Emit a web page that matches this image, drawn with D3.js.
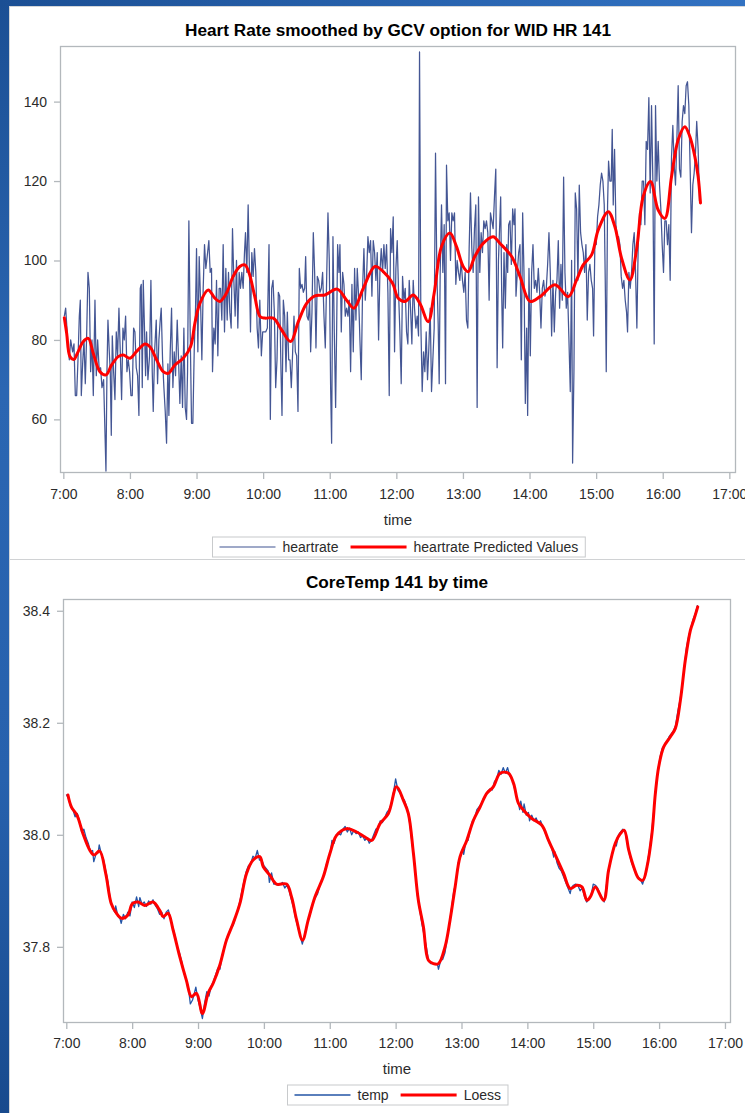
<!DOCTYPE html>
<html><head><meta charset="utf-8">
<script src="https://cdn.jsdelivr.net/npm/d3@7"></script>
<style>
html,body{margin:0;padding:0;background:#fff;}
svg{display:block;font-family:"Liberation Sans",Arial,sans-serif;}
</style></head><body>
<svg id="chart" width="745" height="1113"></svg>
<script>
// ---------------- DATA (minutes after 7:00, value) ----------------
const hourTicks = ["7:00","8:00","9:00","10:00","11:00","12:00","13:00","14:00","15:00","16:00","17:00"];
const hrYTicks = [60, 80, 100, 120, 140];
const tempYTicks = [37.8, 38.0, 38.2, 38.4];

const heartrate = [
[0.9,86],[2.1,88],[3.9,80],[5.4,75],[6.6,80],[8.4,77],[9.6,79],[10.8,66],[12,66],[13.2,75],
[14.4,86],[15.3,90],[16.2,66],[17.4,74],[18.6,80],[19.8,69],[21,81],[22.2,97],[23.4,93],[24.6,72],
[25.8,80],[27,66],[28.5,90],[29.7,71],[30.9,80],[32.4,72],[33.6,73],[34.8,68],[36.3,70],[38.4,47],
[39.3,72],[40.2,85],[41.4,77],[42.3,72],[43.2,56],[44.1,81],[45.3,72],[46.5,65],[47.7,82],[48.9,76],
[50.1,88],[51.3,77],[52.5,65],[53.7,83],[54.9,80],[56.1,86],[57.3,72],[58.5,75],[59.7,72],[60.9,66],
[62.1,66],[63.3,83],[64.5,82],[65.7,73],[66.9,71],[68.1,61],[69.3,93],[70.2,94],[71.1,68],[72,95],
[73.2,82],[74.1,71],[75,82],[76.2,70],[77.7,76],[78.9,95],[80.1,72],[81,62],[82.2,77],[83.7,85],
[84.9,69],[86.1,80],[87.3,85],[88.2,88],[89.4,75],[90.6,68],[91.8,62],[93,54],[94.2,74],[95.1,61],
[96.3,77],[97.5,88],[98.7,68],[99.9,77],[101.1,71],[102.6,85],[103.8,75],[105,64],[106.2,76],[107.4,63],
[108.6,83],[109.8,63],[111,60],[111.9,72],[113.1,110],[114.3,82],[115.5,59],[116.7,59],[117.9,77],[119.1,88],
[120,103],[121.2,77],[122.4,101],[123.6,90],[124.8,75],[126,93],[127.2,104],[128.4,98],[129.6,101],[131.1,105],
[132.3,97],[133.5,98],[134.4,72],[135.6,83],[136.8,79],[138,95],[139.2,76],[140.4,93],[141.6,93],[142.8,85],
[144,104],[145.2,82],[146.4,98],[147.6,85],[148.8,97],[150,87],[151.2,83],[152.4,108],[153.6,95],[154.8,86],
[156,100],[157.2,83],[158.4,97],[159.6,93],[160.8,97],[162,93],[163.2,102],[164.1,107],[165.3,97],[166.5,114],
[167.7,97],[168.6,82],[169.8,102],[171,96],[172.2,103],[173.4,97],[174.6,83],[175.8,78],[177,90],[178.4,76],
[179.6,82],[180.8,82],[182.3,82],[183.8,83],[185.3,104],[186.5,60],[187.7,93],[188.9,95],[190.1,87],[191.3,68],
[192.5,75],[193.7,92],[194.9,91],[196.1,72],[197,61],[198.2,90],[199.4,86],[200.6,72],[201.8,87],[203,75],
[204.2,75],[205.4,68],[206.6,77],[207.8,86],[209,77],[210.2,76],[211.4,62],[212.6,98],[213.8,93],[215,94],
[216.2,92],[217.4,93],[218.3,101],[219.5,86],[220.7,85],[221.9,90],[222.8,77],[224,87],[225.2,107],[226.4,97],
[227.6,78],[228.8,96],[230,95],[231.2,92],[232.4,93],[233.6,97],[234.8,86],[236,78],[237.2,95],[238.4,112],
[239.6,100],[240.8,68],[241.7,54],[242.9,106],[244.1,82],[245.3,63],[246.2,82],[247.1,104],[248.3,97],[249.2,104],
[250.4,82],[251.6,97],[252.8,94],[254,86],[255.2,88],[256.4,86],[257.6,90],[258.8,72],[260,94],[261.2,77],
[262.4,98],[263.6,85],[264.8,98],[266,91],[267.2,80],[268.4,70],[269.6,93],[270.8,103],[272,90],[273.2,96],
[274.4,106],[275.6,102],[276.8,105],[278,91],[279.2,105],[280.4,102],[281.6,95],[282.8,102],[284,80],[285.2,97],
[286.4,103],[287.6,97],[288.8,104],[290,98],[291.2,104],[292.4,92],[293.6,66],[294.8,108],[296,102],[297.2,111],
[298.4,77],[299.6,98],[300.8,105],[302,92],[303.2,82],[304.4,69],[305.6,96],[306.8,90],[308,93],[309.2,82],
[310.4,79],[311.6,95],[312.8,88],[314,79],[315.2,95],[316.4,88],[317.6,83],[318.8,86],[320,81],[320.9,152.5],
[322.1,84],[323.3,67],[324.5,77],[325.7,72],[326.9,82],[328.1,70],[329.3,78],[330.5,88],[331.7,67],[332.9,75],
[334.1,83],[335.3,127],[336.5,97],[337.7,84],[338.6,69],[339.5,97],[340.7,114],[341.9,97],[343.1,109],[344.3,69],
[345.2,124],[346.4,110],[347.6,112],[348.8,100],[350,112],[351.2,110],[352.4,112],[353.6,94],[354.8,100],[356,97],
[357.2,95],[358.4,100],[359.6,95],[360.8,92],[362,97],[363.2,85],[364.4,83],[365.6,103],[366.8,117],[368,103],
[369.2,97],[370.4,108],[371.6,114],[372.8,63],[374,116],[375.2,97],[376.4,107],[377.6,102],[378.8,110],[380,108],
[381.2,110],[382.4,107],[383.6,90],[384.8,112],[386,110],[387.2,108],[388.4,116],[389.6,123],[390.8,73],[392,100],
[394,116],[394.9,92],[395.8,78],[397,102],[398.2,88],[399.4,104],[400.3,97],[401.2,109],[402.4,110],[403.6,99],
[404.8,113],[406,109],[406.9,113],[407.8,91],[409,97],[410.2,102],[411.4,104],[412.6,75],[413.8,112],[415,97],
[416.2,64],[417.4,83],[418.3,61],[419.5,98],[420.7,76],[421.9,97],[423.1,104],[424.3,93],[425.5,95],[426.7,92],
[427.9,98],[429.1,92],[430.3,83],[431.5,93],[432.7,95],[433.9,91],[435.1,93],[436.3,99],[437.5,107],[438.7,97],
[439.9,81],[441.1,95],[442.3,82],[443.5,92],[444.7,95],[445.9,105],[447.1,88],[448.3,99],[449.5,90],[450.7,121],
[451.9,97],[453.1,88],[454.3,92],[455.5,80],[456.7,67],[457.9,100],[458.8,49],[460,72],[461.2,117],[462.4,113],
[463.6,95],[464.8,119],[466,107],[467.2,104],[468.4,102],[469.6,97],[470.8,104],[472,85],[473.2,97],[474.4,99],
[475.6,95],[476.8,93],[477.7,81],[478.9,105],[480.1,104],[481.3,111],[482.5,114],[483.7,119],[484.9,122],[486.1,120],
[487.3,114],[488.2,95],[489.1,72],[490.3,114],[491.2,125],[492.4,120],[493.6,120],[494.5,133],[495.4,114],[496.6,128],
[497.8,109],[499,106],[500.2,106],[501.4,104],[502.6,96],[503.8,93],[505,95],[506.2,90],[507.4,87],[508.3,82],
[509.5,97],[510.7,93],[511.9,97],[513.1,104],[514.3,107],[515.5,97],[516.7,83],[517.9,104],[519.1,112],[520.3,109],
[521.5,120],[522.7,120],[523.9,109],[525.1,130],[526.3,128],[527.5,141],[528.7,117],[529.9,139],[531.1,120],[532.3,79],
[533.5,139],[534.7,120],[535.9,130],[537.1,119],[538.3,113],[539.5,104],[540.7,97],[541.9,110],[543.1,110],[544.3,104],
[545.5,109],[546.7,95],[547.9,126],[549.1,134],[550.3,124],[551.5,119],[552.7,130],[553.9,144],[555.1,123],[556.3,121],
[557.5,135],[558.7,139],[559.9,137],[561.1,144],[562.3,145],[563.5,139],[564.7,123],[565.9,107],[567.1,119],[568.3,122],
[569.5,127],[570.6,135],[571.9,128],[573.1,115],[574,115]
];

const heartratePredicted = [
[0.9,85.6],[3,81.7],[6,75.8],[9.6,75.1],[12.6,76.6],[18,79.6],[22.5,80.4],[27,76.6],[33,72],[38.4,71.2],
[43.5,73.7],[49.5,75.8],[54,76.2],[60,75.4],[66,77.1],[73.5,79],[78,78.3],[84,75],[90,72],[94.5,71.6],
[100.5,73.7],[108,75.4],[114.6,78.3],[118.5,84.2],[123,89.2],[130.5,92.6],[136.5,90.5],[141,89.7],[147,91.8],[153,96],
[159,98.5],[163.5,98.9],[167.4,96.8],[172.5,90.9],[177.2,85.9],[181.7,85.5],[189.2,85.5],[196.7,82.5],[204.8,79.6],[211.7,84.6],
[219.2,89.2],[226.7,91.1],[235.7,91.3],[246.8,92.8],[255.2,90],[261.8,88],[270.2,93],[280.7,98.5],[288.2,97.2],[296.6,94.3],
[301.7,90.5],[307.7,89.7],[315.2,91.3],[321.2,89.2],[328.7,84.6],[334.1,91.8],[340.7,103.5],[348.2,106.9],[354.2,103.5],[360.2,98.5],
[364.7,97.2],[370.7,101],[378.2,104.3],[387.2,106],[393.4,104.3],[403.9,101],[411.4,96],[420.4,89.7],[429.4,90.9],[442.9,93.9],
[454.9,90.9],[462.4,95.1],[468.4,98.9],[475.9,101.4],[481.9,107.7],[490.9,112.3],[496.9,108.5],[502.9,100.6],[510.4,95.1],[516.4,102.7],
[522.4,116.1],[529,119.9],[535.9,112.7],[541.9,110.6],[547.9,121.1],[553.9,130.4],[559.9,133.7],[564.4,131.2],[568.9,126.2],[571.9,121.1],
[574,114.5]
];

const temp = [
[0,38.072],[2,38.065],[4,38.05],[6,38.045],[8,38.032],[10,38.038],[12,38.025],[14,38.005],[16,38.01],[18,37.995],
[20,37.985],[22,37.97],[24,37.972],[25,37.952],[27,37.965],[29,37.968],[30,37.982],[32,37.965],[34,37.955],[36,37.935],
[38,37.915],[40,37.885],[42,37.872],[44,37.862],[45,37.873],[47,37.855],[49,37.85],[50,37.842],[52,37.858],[54,37.85],
[56,37.862],[58,37.855],[60,37.88],[62,37.87],[64,37.889],[66,37.872],[67,37.888],[69,37.876],[71,37.88],[73,37.872],
[75,37.882],[77,37.876],[79,37.884],[81,37.874],[83,37.868],[85,37.858],[87,37.862],[89,37.85],[91,37.862],[93,37.866],
[95,37.85],[97,37.835],[99,37.82],[101,37.8],[103,37.79],[105,37.775],[107,37.755],[109,37.742],[111,37.73],[113,37.698],
[115,37.705],[117,37.72],[118,37.728],[120,37.705],[122,37.69],[124,37.672],[126,37.7],[128,37.72],[130,37.712],[132,37.73],
[134,37.738],[136,37.75],[138,37.762],[140,37.76],[142,37.785],[144,37.8],[146,37.815],[148,37.822],[150,37.835],[152,37.838],
[154,37.852],[156,37.865],[158,37.88],[160,37.9],[162,37.918],[164,37.935],[166,37.945],[168,37.948],[170,37.962],[172,37.958],
[174,37.972],[176,37.955],[178,37.955],[180,37.945],[182,37.94],[184,37.935],[185,37.915],[187,37.932],[189,37.912],[191,37.912],
[193,37.91],[195,37.912],[197,37.915],[199,37.905],[201,37.91],[203,37.9],[205,37.885],[207,37.87],[209,37.85],[211,37.835],
[213,37.82],[215,37.805],[217,37.82],[219,37.838],[221,37.85],[223,37.865],[225,37.88],[227,37.888],[229,37.895],[231,37.91],
[233,37.92],[235,37.93],[237,37.948],[239,37.958],[241,37.975],[242,37.99],[244,37.985],[246,38.0],[248,38.002],[250,38.0],
[252,38.01],[254,38.015],[256,38.005],[258,38.012],[260,38.0],[262,38.008],[264,38.002],[266,38.005],[268,37.995],[270,37.998],
[272,37.99],[274,37.995],[276,37.985],[278,37.99],[280,38.0],[282,38.01],[284,38.012],[286,38.025],[288,38.022],[290,38.03],
[292,38.04],[294,38.045],[296,38.055],[298,38.075],[300,38.1],[302,38.08],[304,38.075],[306,38.065],[308,38.062],[310,38.05],
[312,38.035],[314,38.0],[316,37.97],[318,37.93],[320,37.89],[322,37.865],[324,37.84],[326,37.82],[328,37.8],[330,37.775],
[332,37.77],[334,37.77],[336,37.77],[338,37.77],[339,37.76],[341,37.775],[343,37.778],[345,37.79],[347,37.815],[349,37.84],
[351,37.87],[353,37.9],[355,37.915],[357,37.95],[359,37.96],[361,37.975],[362,37.965],[364,37.988],[366,37.99],[368,38.01],
[370,38.025],[372,38.03],[374,38.045],[376,38.05],[378,38.055],[380,38.065],[382,38.07],[384,38.078],[386,38.082],[388,38.08],
[390,38.095],[392,38.1],[394,38.115],[396,38.108],[398,38.12],[400,38.11],[402,38.12],[404,38.105],[406,38.1],[408,38.085],
[410,38.07],[412,38.055],[413,38.045],[414,38.06],[416,38.04],[417,38.055],[419,38.035],[421,38.04],[422,38.025],[424,38.035],
[426,38.025],[428,38.03],[430,38.02],[432,38.025],[434,38.015],[436,38.005],[438,37.995],[440,37.985],[442,37.978],[444,37.96],
[445,37.97],[447,37.95],[449,37.94],[451,37.935],[453,37.925],[455,37.915],[457,37.905],[459,37.895],[460,37.905],[462,37.91],
[464,37.912],[466,37.91],[468,37.9],[470,37.905],[472,37.89],[474,37.88],[476,37.885],[478,37.89],[480,37.912],[482,37.91],
[484,37.905],[486,37.895],[488,37.888],[490,37.88],[492,37.91],[494,37.935],[496,37.955],[498,37.97],[500,37.985],[501,37.98],
[503,38.0],[505,38.005],[507,38.01],[509,38.005],[511,37.985],[513,37.965],[515,37.95],[517,37.94],[519,37.93],[521,37.925],
[523,37.92],[525,37.912],[527,37.925],[529,37.945],[531,37.97],[533,38.0],[535,38.04],[537,38.08],[539,38.115],[541,38.14],
[543,38.155],[545,38.16],[547,38.165],[549,38.175],[551,38.18],[553,38.185],[555,38.195],[557,38.22],[559,38.24],[561,38.265],
[563,38.3],[565,38.335],[567,38.355],[569,38.37],[571,38.385],[573,38.395],[575,38.41]
];

const loess = [
[1.5,38.071],[4.6,38.05],[9.7,38.035],[15.2,38.002],[21.3,37.973],[25.2,37.964],[30.4,37.971],[35.9,37.931],[41,37.877],[45.6,37.86],
[50.2,37.851],[56.2,37.857],[60.2,37.877],[65.4,37.88],[71.4,37.874],[79,37.88],[85.1,37.865],[88.2,37.854],[92.7,37.86],[97.3,37.83],
[103.4,37.782],[109.4,37.74],[114,37.711],[118.6,37.717],[124,37.681],[129.2,37.717],[133.8,37.735],[139.8,37.767],[145.9,37.812],[152,37.842],
[158.1,37.877],[164.2,37.931],[170.2,37.955],[176.3,37.961],[179.4,37.943],[185.4,37.928],[191.5,37.912],[200.6,37.912],[205.2,37.889],[209.8,37.848],
[215.2,37.812],[220.4,37.848],[226.5,37.889],[234.1,37.925],[240.2,37.967],[246.2,37.999],[255.4,38.011],[264.5,38.005],[272.1,37.996],[278.2,37.99],
[285.8,38.02],[293.4,38.038],[300.9,38.086],[307,38.062],[311.6,38.038],[316.2,37.967],[320.7,37.883],[325.3,37.836],[329.8,37.776],[334.4,37.77],
[339,37.77],[345,37.8],[349.6,37.848],[354.2,37.907],[358.7,37.961],[364.8,37.99],[370.9,38.026],[377,38.05],[383,38.074],[389.1,38.086],
[395.2,38.11],[402.8,38.11],[407.4,38.092],[411.9,38.056],[416.5,38.044],[424.1,38.029],[433.2,38.017],[439.3,37.99],[445.4,37.964],[453,37.931],
[459.1,37.904],[465.1,37.91],[469.7,37.907],[474.3,37.883],[477.3,37.889],[481.9,37.907],[489.5,37.883],[494,37.937],[500.1,37.985],[504.7,38.002],
[508.3,38.008],[512.3,37.973],[516.8,37.943],[521.4,37.922],[525.3,37.919],[529,37.943],[533.5,38.002],[536.6,38.074],[539.6,38.121],[544.2,38.157],
[550.3,38.175],[554.8,38.19],[559.4,38.24],[563.9,38.312],[568.5,38.365],[571.5,38.383],[575.2,38.407]
];

// ---------------- RENDER ----------------
const svg = d3.select("#chart");
const W = 745, H = 1113;
const FONT = '"Liberation Sans", Arial, sans-serif';
const parseHM = d3.timeParse("%H:%M");
const base = parseHM("7:00");
const toDate = m => new Date(base.getTime() + m * 60000);
const fmtHM = d3.timeFormat("%-H:%M");

// slide-like background
const defs = svg.append("defs");
const gv = defs.append("linearGradient").attr("id","gv").attr("x1",0).attr("y1",0).attr("x2",0).attr("y2",1);
gv.append("stop").attr("offset","0%").attr("stop-color","#1b4f94");
gv.append("stop").attr("offset","35%").attr("stop-color","#2b66b2");
gv.append("stop").attr("offset","70%").attr("stop-color","#2761ad");
gv.append("stop").attr("offset","100%").attr("stop-color","#184a8d");
const gh = defs.append("linearGradient").attr("id","gh").attr("x1",0).attr("y1",0).attr("x2",1).attr("y2",0);
gh.append("stop").attr("offset","0%").attr("stop-color","#1b4f94");
gh.append("stop").attr("offset","100%").attr("stop-color","#3272c2");
svg.append("rect").attr("x",0).attr("y",0).attr("width",W).attr("height",H).attr("fill","url(#gv)");
svg.append("rect").attr("x",0).attr("y",0).attr("width",W).attr("height",7).attr("fill","url(#gh)");
svg.append("rect").attr("x",9.5).attr("y",6.5).attr("width",W).attr("height",H)
  .attr("fill","#ffffff").attr("stroke","#d4d6d8").attr("stroke-width",1);
svg.append("line").attr("x1",10).attr("x2",W).attr("y1",559.5).attr("y2",559.5)
  .attr("stroke","#d0d2d4").attr("stroke-width",1);

function panel(cfg) {
  const g = svg.append("g");
  const x = d3.scaleTime()
    .domain([toDate(-3), toDate(cfg.xMaxMin)])
    .range([cfg.left, cfg.right]);
  const y = d3.scaleLinear().domain(cfg.yDomain).range([cfg.bottom, cfg.top]);
  const cx = (cfg.left + cfg.right) / 2;

  g.append("text").attr("x", cx).attr("y", cfg.titleY).attr("text-anchor","middle")
    .attr("font-family", FONT).attr("font-size", 17.2).attr("font-weight","bold").attr("fill","#000")
    .text(cfg.title);

  // frame
  g.append("rect").attr("x", cfg.left + 0.5).attr("y", cfg.top + 0.5)
    .attr("width", cfg.right - cfg.left - 1).attr("height", cfg.bottom - cfg.top - 1)
    .attr("fill","none").attr("stroke","#b3b8bc").attr("stroke-width",1.3);

  // x axis
  const xa = g.append("g").attr("transform", `translate(0,${cfg.bottom})`)
    .call(d3.axisBottom(x).tickValues(hourTicks.map(h => toDate((parseHM(h)-base)/60000)))
      .tickFormat(fmtHM).tickSizeOuter(0).tickSize(6).tickPadding(cfg.xPad));
  xa.select(".domain").remove();
  xa.selectAll(".tick line").attr("stroke","#b3b8bc").attr("stroke-width",1.3);
  xa.selectAll(".tick text").attr("font-family", FONT).attr("font-size", 14).attr("fill","#2b2b2b");

  // y axis
  const ya = g.append("g").attr("transform", `translate(${cfg.left},0)`)
    .call(d3.axisLeft(y).tickValues(cfg.yTicks).tickFormat(cfg.yFmt).tickSizeOuter(0).tickSize(6).tickPadding(cfg.yPad));
  ya.select(".domain").remove();
  ya.selectAll(".tick line").attr("stroke","#b3b8bc").attr("stroke-width",1.3);
  ya.selectAll(".tick text").attr("font-family", FONT).attr("font-size", 14).attr("fill","#2b2b2b");

  g.append("text").attr("x", cx).attr("y", cfg.xLabelY).attr("text-anchor","middle")
    .attr("font-family", FONT).attr("font-size", 15).attr("fill","#2b2b2b").text("time");

  // series
  const rawLine = d3.line().x(d => x(toDate(d[0]))).y(d => y(d[1]));
  const smoothLine = d3.line().x(d => x(toDate(d[0]))).y(d => y(d[1])).curve(d3.curveCatmullRom.alpha(0.5));
  g.append("path").datum(cfg.raw).attr("d", rawLine).attr("fill","none")
    .attr("stroke", cfg.rawColor).attr("stroke-width", cfg.rawWidth).attr("stroke-linejoin","round");
  g.append("path").datum(cfg.fit).attr("d", smoothLine).attr("fill","none")
    .attr("stroke","#ff0000").attr("stroke-width",3).attr("stroke-linejoin","round").attr("stroke-linecap","round");

  // legend
  const lg = g.append("g");
  const box = lg.append("rect").attr("fill","#fff").attr("stroke","#c8cacc").attr("stroke-width",1);
  const items = [
    {label: cfg.rawLabel, color: cfg.legendRawColor, w: 1.5},
    {label: cfg.fitLabel, color: "#ff0000", w: 3}
  ];
  let cur = 7;
  items.forEach((it, i) => {
    lg.append("line").attr("x1", cur).attr("x2", cur + 56)
      .attr("stroke", it.color).attr("stroke-width", it.w);
    cur += 56 + 7;
    const t = lg.append("text").attr("x", cur).attr("font-family", FONT).attr("font-size", 14)
      .attr("fill","#2b2b2b").text(it.label);
    cur += t.node().getComputedTextLength() + (i === 0 ? 12 : 7);
  });
  const bw = cur;
  const bx = Math.round(cx - bw / 2) + 0.5;
  lg.attr("transform", `translate(${bx},${cfg.legendTop})`);
  box.attr("x", 0).attr("y", 0).attr("width", bw).attr("height", 20);
  lg.selectAll("line").attr("y1", 10).attr("y2", 10);
  lg.selectAll("text").attr("y", 15);
}

panel({
  title: "Heart Rate smoothed by GCV option for WID HR 141",
  titleY: 36, left: 60, right: 736, top: 46, bottom: 473, xMaxMin: 606,
  yDomain: [46.5, 154], yTicks: hrYTicks, yFmt: d3.format("d"), yPad: 7,
  xPad: 10, xLabelY: 525, legendTop: 537,
  raw: heartrate, fit: heartratePredicted, rawColor: "#445694", rawWidth: 1.25,
  legendRawColor: "#7f8cb6", rawLabel: "heartrate", fitLabel: "heartrate Predicted Values"
});

panel({
  title: "CoreTemp 141 by time",
  titleY: 588, left: 63, right: 731, top: 599, bottom: 1023, xMaxMin: 605.5,
  yDomain: [37.664, 38.421], yTicks: tempYTicks, yFmt: d3.format(".1f"), yPad: 7,
  xPad: 9, xLabelY: 1074, legendTop: 1085,
  raw: temp, fit: loess, rawColor: "#2354a6", rawWidth: 1.3,
  legendRawColor: "#2354a6", rawLabel: "temp", fitLabel: "Loess"
});
</script>
</body></html>
